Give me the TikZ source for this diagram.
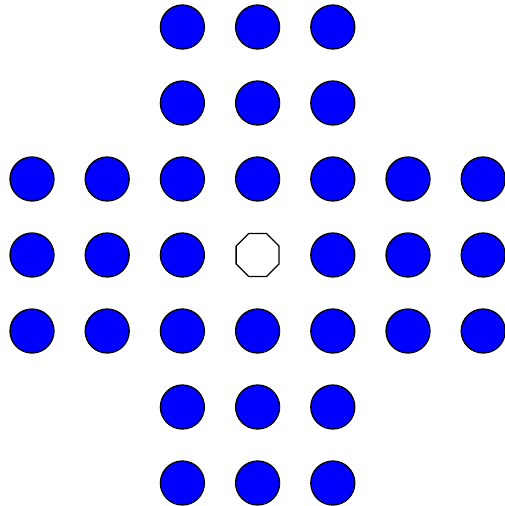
\documentclass[tikz,border=0pt]{standalone}
\usetikzlibrary{shapes.geometric}
\begin{document}
\begin{tikzpicture}[x=1pt,y=-1pt,
  peg/.style={circle,draw=black,line width=1.3pt,fill=blue,minimum size=44pt,inner sep=0pt},
  hole/.style={regular polygon,regular polygon sides=8,draw=black,line width=1.3pt,fill=white,minimum size=46.5pt,inner sep=0pt}]
\useasboundingbox[fill=white] (0,0) rectangle (504,506);
\foreach \r in {0,...,6}{
  \foreach \c in {0,...,6}{
    \pgfmathtruncatemacro{\inboard}{((\r>1 && \r<5) || (\c>1 && \c<5)) ? 1 : 0}
    \pgfmathtruncatemacro{\center}{(\r==3 && \c==3) ? 1 : 0}
    \ifnum\inboard=1
      \ifnum\center=1
        \node[hole] (p\r\c) at ({32+75.2*\c},{27+76*\r}) {};
      \else
        \node[peg] (p\r\c) at ({32+75.2*\c},{27+76*\r}) {};
      \fi
    \fi
  }
}
\end{tikzpicture}
\end{document}
